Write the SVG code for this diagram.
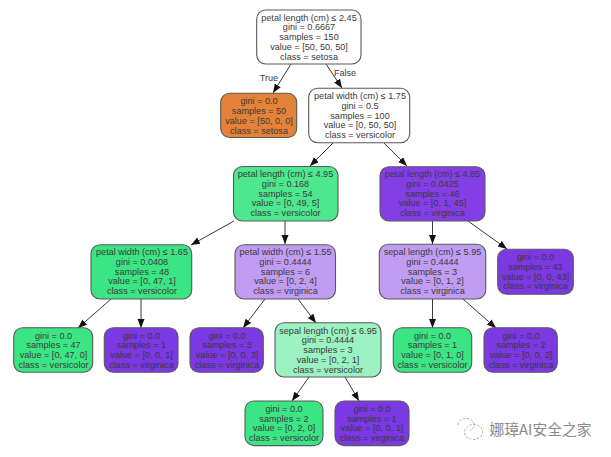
<svg xmlns="http://www.w3.org/2000/svg" width="611" height="457" viewBox="0 0 611 457">
<style>
text{font-family:"Liberation Sans",Arial,sans-serif;font-size:9.1px;fill:#3a3a3a;text-anchor:middle}
.n{stroke:#5a5a5a;stroke-width:1.1}
.w{fill:#fff}.o{fill:#e58139}.g{fill:#3ce584}.g2{fill:#4de88e}.p{fill:#7c38e3}.p2{fill:#843ee6}.l{fill:#c09cf2}.m{fill:#9cf2c0}
#edges line{stroke:#3a3a3a;stroke-width:1;marker-end:url(#a)}
.wm{font-family:"Noto Sans CJK SC","Liberation Sans",sans-serif;font-size:14.8px;fill:#8a8a8a;text-anchor:start}
</style>
<defs><marker id="a" markerUnits="userSpaceOnUse" markerWidth="10" markerHeight="8" refX="9" refY="3.5" orient="auto"><path d="M0,0L9,3.5L0,7z" fill="#111"/></marker></defs>
<rect width="611" height="457" fill="#fff"/>
<g id="edges">
<line x1="291" y1="64" x2="273" y2="93"/>
<line x1="326" y1="64" x2="342" y2="88"/>
<line x1="333" y1="143" x2="310" y2="166"/>
<line x1="384" y1="143" x2="407" y2="166"/>
<line x1="234" y1="221" x2="191" y2="245"/>
<line x1="285" y1="221" x2="285" y2="244"/>
<line x1="111" y1="299" x2="78" y2="328"/>
<line x1="141" y1="299" x2="141" y2="328"/>
<line x1="265" y1="299" x2="243" y2="328"/>
<line x1="298" y1="299" x2="316" y2="323"/>
<line x1="309" y1="377" x2="292" y2="401"/>
<line x1="345" y1="377" x2="359" y2="401"/>
<line x1="432.5" y1="221" x2="432.5" y2="244"/>
<line x1="468" y1="221" x2="507" y2="249"/>
<line x1="432.5" y1="299" x2="432.5" y2="328"/>
<line x1="463" y1="299" x2="496" y2="328"/>
</g>
<text x="269" y="80.5">True</text>
<text x="345" y="75.5">False</text>
<g id="n0"><rect class="n w" x="256.7" y="10" width="104.3" height="54" rx="9"/><text x="309" y="20.6"><tspan x="309">petal length (cm) ≤ 2.45</tspan><tspan x="309" dy="9.8">gini = 0.6667</tspan><tspan x="309" dy="9.8">samples = 150</tspan><tspan x="309" dy="9.8">value = [50, 50, 50]</tspan><tspan x="309" dy="9.8">class = setosa</tspan></text></g>
<g id="n1"><rect class="n o" x="220.7" y="93.3" width="76" height="44.2" rx="9"/><text x="259" y="104.3"><tspan x="259">gini = 0.0</tspan><tspan x="259" dy="9.8">samples = 50</tspan><tspan x="259" dy="9.8">value = [50, 0, 0]</tspan><tspan x="259" dy="9.8">class = setosa</tspan></text></g>
<g id="n2"><rect class="n w" x="308.7" y="88.3" width="101" height="54.4" rx="9"/><text x="360" y="99"><tspan x="360">petal width (cm) ≤ 1.75</tspan><tspan x="360" dy="9.8">gini = 0.5</tspan><tspan x="360" dy="9.8">samples = 100</tspan><tspan x="360" dy="9.8">value = [0, 50, 50]</tspan><tspan x="360" dy="9.8">class = versicolor</tspan></text></g>
<g id="n3"><rect class="n g2" x="233.5" y="166.5" width="104.5" height="54.5" rx="9"/><text x="285.5" y="177"><tspan x="285.5">petal length (cm) ≤ 4.95</tspan><tspan x="285.5" dy="9.8">gini = 0.168</tspan><tspan x="285.5" dy="9.8">samples = 54</tspan><tspan x="285.5" dy="9.8">value = [0, 49, 5]</tspan><tspan x="285.5" dy="9.8">class = versicolor</tspan></text></g>
<g id="n4"><rect class="n p2" x="380" y="166.7" width="105" height="54.3" rx="9"/><text x="432.5" y="177"><tspan x="432.5">petal length (cm) ≤ 4.85</tspan><tspan x="432.5" dy="9.8">gini = 0.0425</tspan><tspan x="432.5" dy="9.8">samples = 46</tspan><tspan x="432.5" dy="9.8">value = [0, 1, 45]</tspan><tspan x="432.5" dy="9.8">class = virginica</tspan></text></g>
<g id="n5"><rect class="n g" x="91" y="244.7" width="100.7" height="54.3" rx="9"/><text x="142" y="255"><tspan x="142">petal width (cm) ≤ 1.65</tspan><tspan x="142" dy="9.8">gini = 0.0408</tspan><tspan x="142" dy="9.8">samples = 48</tspan><tspan x="142" dy="9.8">value = [0, 47, 1]</tspan><tspan x="142" dy="9.8">class = versicolor</tspan></text></g>
<g id="n6"><rect class="n l" x="235" y="244.7" width="100.5" height="54.3" rx="9"/><text x="285.5" y="255"><tspan x="285.5">petal width (cm) ≤ 1.55</tspan><tspan x="285.5" dy="9.8">gini = 0.4444</tspan><tspan x="285.5" dy="9.8">samples = 6</tspan><tspan x="285.5" dy="9.8">value = [0, 2, 4]</tspan><tspan x="285.5" dy="9.8">class = virginica</tspan></text></g>
<g id="n7"><rect class="n l" x="379.3" y="244.3" width="106.4" height="54.7" rx="9"/><text x="432.5" y="255"><tspan x="432.5">sepal length (cm) ≤ 5.95</tspan><tspan x="432.5" dy="9.8">gini = 0.4444</tspan><tspan x="432.5" dy="9.8">samples = 3</tspan><tspan x="432.5" dy="9.8">value = [0, 1, 2]</tspan><tspan x="432.5" dy="9.8">class = virginica</tspan></text></g>
<g id="n8"><rect class="n p" x="497.7" y="249.3" width="75.6" height="45" rx="9"/><text x="535.5" y="260"><tspan x="535.5">gini = 0.0</tspan><tspan x="535.5" dy="9.8">samples = 43</tspan><tspan x="535.5" dy="9.8">value = [0, 0, 43]</tspan><tspan x="535.5" dy="9.8">class = virginica</tspan></text></g>
<g id="n9"><rect class="n g" x="13.7" y="327.7" width="79" height="44.6" rx="9"/><text x="53.5" y="338.5"><tspan x="53.5">gini = 0.0</tspan><tspan x="53.5" dy="9.8">samples = 47</tspan><tspan x="53.5" dy="9.8">value = [0, 47, 0]</tspan><tspan x="53.5" dy="9.8">class = versicolor</tspan></text></g>
<g id="n10"><rect class="n p" x="104.3" y="327.7" width="73.7" height="44.6" rx="9"/><text x="141.5" y="338.5"><tspan x="141.5">gini = 0.0</tspan><tspan x="141.5" dy="9.8">samples = 1</tspan><tspan x="141.5" dy="9.8">value = [0, 0, 1]</tspan><tspan x="141.5" dy="9.8">class = virginica</tspan></text></g>
<g id="n11"><rect class="n p" x="190" y="327.7" width="73.3" height="44.6" rx="9"/><text x="227" y="338.5"><tspan x="227">gini = 0.0</tspan><tspan x="227" dy="9.8">samples = 3</tspan><tspan x="227" dy="9.8">value = [0, 0, 3]</tspan><tspan x="227" dy="9.8">class = virginica</tspan></text></g>
<g id="n12"><rect class="n m" x="275" y="322.7" width="106" height="54.3" rx="9"/><text x="328" y="333.5"><tspan x="328">sepal length (cm) ≤ 6.95</tspan><tspan x="328" dy="9.8">gini = 0.4444</tspan><tspan x="328" dy="9.8">samples = 3</tspan><tspan x="328" dy="9.8">value = [0, 2, 1]</tspan><tspan x="328" dy="9.8">class = versicolor</tspan></text></g>
<g id="n13"><rect class="n g" x="393.3" y="327.7" width="78.4" height="44.6" rx="9"/><text x="432.5" y="338.5"><tspan x="432.5">gini = 0.0</tspan><tspan x="432.5" dy="9.8">samples = 1</tspan><tspan x="432.5" dy="9.8">value = [0, 1, 0]</tspan><tspan x="432.5" dy="9.8">class = versicolor</tspan></text></g>
<g id="n14"><rect class="n p" x="484" y="327.7" width="73.3" height="44.6" rx="9"/><text x="521" y="338.5"><tspan x="521">gini = 0.0</tspan><tspan x="521" dy="9.8">samples = 2</tspan><tspan x="521" dy="9.8">value = [0, 0, 2]</tspan><tspan x="521" dy="9.8">class = virginica</tspan></text></g>
<g id="n15"><rect class="n g" x="245" y="401" width="78" height="44.6" rx="9"/><text x="284" y="411.8"><tspan x="284">gini = 0.0</tspan><tspan x="284" dy="9.8">samples = 2</tspan><tspan x="284" dy="9.8">value = [0, 2, 0]</tspan><tspan x="284" dy="9.8">class = versicolor</tspan></text></g>
<g id="n16"><rect class="n p" x="335" y="401" width="74" height="44.6" rx="9"/><text x="372" y="411.8"><tspan x="372">gini = 0.0</tspan><tspan x="372" dy="9.8">samples = 1</tspan><tspan x="372" dy="9.8">value = [0, 0, 1]</tspan><tspan x="372" dy="9.8">class = virginica</tspan></text></g>
<path d="M458,425a8,6.5 0 1 1 12,5.5M473,439.5a9,7.5 0 1 0-2-.3" fill="none" stroke="#aaa" stroke-width="1" stroke-dasharray="2.5 1.5"/>
<text class="wm" x="489.5" y="435">娜璋AI安全之家</text>
</svg>
